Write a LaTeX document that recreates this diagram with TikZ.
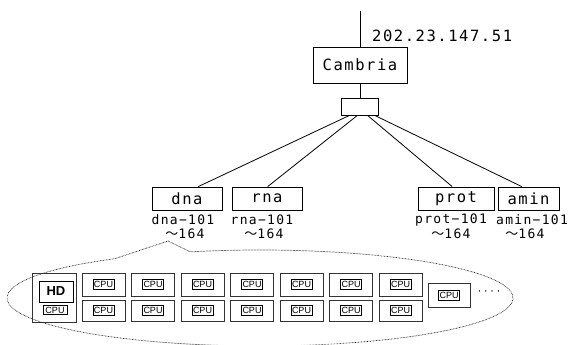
\documentclass[tikz,border=0pt]{standalone}
\usepackage{fontspec}
\usetikzlibrary{calc}
\newfontfamily\gfont{DejaVu Sans Mono}[LetterSpace=10]
\newfontfamily\jpfont{Noto Sans CJK JP}
\newfontfamily\cpufont{Liberation Sans}
\begin{document}
\begin{tikzpicture}[x=1pt,y=1pt,
  wire/.style={line width=0.8pt},
  bigbox/.style={draw, line width=0.9pt, inner sep=0pt, font=\fontsize{15.5}{16}\selectfont\gfont},
  lbl/.style={inner sep=0pt, font=\fontsize{13}{14}\selectfont\gfont},
  rack/.style={draw, line width=0.8pt, draw=black!80, inner sep=0pt},
  cpu/.style={draw, line width=0.9pt, inner sep=0pt, minimum width=21, minimum height=10,
    font=\fontsize{9}{9}\selectfont\cpufont},
  cloud/.style={dash pattern=on 0.7pt off 0.8pt, line width=0.7pt, draw=black!85}]
\useasboundingbox (0,0) rectangle (568,-345);

% top part
\coordinate (top) at (360,-11);
\node[bigbox, minimum width=94, minimum height=36] (cam) at (360,-65) {Cambria};
\node[draw, line width=0.9pt, minimum width=37, minimum height=17, inner sep=0pt] (hub) at (360,-106.5) {};
\node[anchor=west, inner sep=0pt, font=\fontsize{15.5}{16}\selectfont\gfont] (ip) at (372,-36) {202.23.147.51};
\draw[wire] (top) -- (cam.north);
\draw[wire] (cam.south) -- (hub.north);

% group boxes
\node[bigbox, minimum width=70, minimum height=23] (dna) at (187,-198.5) {dna};
\node[bigbox, minimum width=70, minimum height=23] (rna) at (267,-198.5) {rna};
\node[bigbox, minimum width=76, minimum height=23] (prot) at (456,-198.5) {prot};
\node[bigbox, minimum width=61, minimum height=23] (amin) at (528.5,-198.5) {amin};

\draw[wire] ($(hub.south west)!0.22!(hub.south east)$) -- ($(dna.north west)!0.66!(dna.north east)$);
\draw[wire] ($(hub.south west)!0.43!(hub.south east)$) -- ($(rna.north west)!0.51!(rna.north east)$);
\draw[wire] ($(hub.south west)!0.70!(hub.south east)$) -- ($(prot.north west)!0.45!(prot.north east)$);
\draw[wire] ($(hub.south west)!0.89!(hub.south east)$) -- ($(amin.north west)!0.39!(amin.north east)$);

% range labels
\node[lbl] (dnaA) at (183,-220) {dna−101};
\node[lbl] (dnaB) at (185,-233.5) {{\jpfont ～}164};
\node[lbl] (rnaA) at (262,-220) {rna−101};
\node[lbl] (rnaB) at (264,-233.5) {{\jpfont ～}164};
\node[lbl] (protA) at (451,-220) {prot−101};
\node[lbl] (protB) at (451,-233.5) {{\jpfont ～}164};
\node[lbl] (aminA) at (532,-220) {amin−101};
\node[lbl] (aminB) at (525,-233.5) {{\jpfont ～}164};

% dotted cloud
\draw[cloud] (168,-241) -- ({260+253*cos(106)},{-298+48*sin(106)})
  arc[start angle=106, end angle=-235, x radius=253pt, y radius=48pt] -- cycle;

% rack
\node[rack, minimum width=44, minimum height=49] (hdbox) at (54,-297.5) {};
\node[draw, line width=0.9pt, minimum width=34, minimum height=21, inner sep=0pt,
  font=\fontsize{13}{13}\selectfont\cpufont\bfseries] (hd) at (56,-291.5) {HD};
\node[cpu, minimum width=24, minimum height=9] (hdcpu) at (55,-310) {CPU};
\foreach \i in {0,...,6}{
  \pgfmathsetmacro{\cx}{82+49.5*\i+21.5}
  \node[rack, minimum width=43, minimum height=23] (ca\i) at (\cx,-284.5) {};
  \node[cpu] (pa\i) at (ca\i.center) {CPU};
  \node[rack, minimum width=43, minimum height=21] (cb\i) at (\cx,-310.5) {};
  \node[cpu] (pb\i) at (cb\i.center) {CPU};
}
\node[rack, minimum width=42, minimum height=24] (single) at (449,-295) {};
\node[cpu] (ps) at (single.center) {CPU};
\node[inner sep=0pt, font=\fontsize{9}{9}\selectfont\gfont] (dots) at (489,-293) {····};
\end{tikzpicture}
\end{document}
